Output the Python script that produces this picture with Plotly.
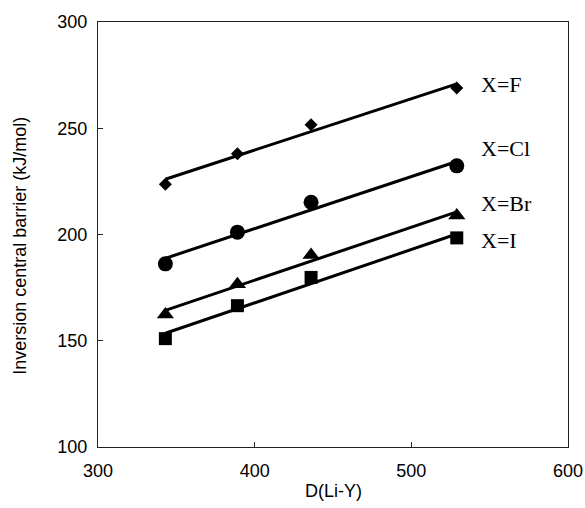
import numpy as np
import plotly.graph_objects as go

# Data
d_li_y = [343, 389, 436, 529]
barrier_F = [223.7, 238.0, 251.7, 269.0]
barrier_Cl = [186.2, 201.1, 215.2, 232.3]
barrier_Br = [162.3, 176.6, 190.3, 209.0]
barrier_I = [151.0, 166.5, 179.8, 198.4]
series_names = ["X=F", "X=Cl", "X=Br", "X=I"]
label_y = [270.6, 240.3, 214.4, 197.1]
label_x = 543

series = [barrier_F, barrier_Cl, barrier_Br, barrier_I]
symbols = ["diamond", "circle", "triangle-up", "square"]
sizes = [10, 15, 15, 13]

fig = go.Figure()
x = np.array(d_li_y, dtype=float)
for name, yv, sym, sz in zip(series_names, series, symbols, sizes):
    y = np.array(yv, dtype=float)
    slope, icpt = np.polyfit(x, y, 1)
    xf = np.array([x.min(), x.max()])
    fig.add_trace(go.Scatter(x=xf, y=slope * xf + icpt, mode="lines",
                             line=dict(color="black", width=3),
                             showlegend=False, hoverinfo="skip"))
    fig.add_trace(go.Scatter(x=x, y=y, mode="markers", name=name,
                             marker=dict(symbol=sym, size=sz, color="black"),
                             showlegend=False))

for name, ly in zip(series_names, label_y):
    fig.add_annotation(x=label_x, y=ly, xref="x", yref="y", text=name,
                       showarrow=False, xanchor="left", yanchor="middle",
                       font=dict(family="Liberation Serif", size=22, color="black"))

fig.add_annotation(x=0.5, y=-0.1024, xref="paper", yref="paper", text="D(Li-Y)",
                   showarrow=False, xanchor="center", yanchor="middle",
                   font=dict(family="Liberation Sans", size=18, color="black"))
fig.add_annotation(x=-0.1677, y=0.474, xref="paper", yref="paper",
                   text="Inversion central barrier (kJ/mol)", textangle=-90,
                   showarrow=False, xanchor="center", yanchor="middle",
                   font=dict(family="Liberation Sans", size=18, color="black"))

axis_common = dict(showgrid=False, zeroline=False, showline=True, mirror=True,
                   linecolor="#222", linewidth=1, ticks="inside", ticklen=5,
                   tickcolor="#222", automargin=False,
                   tickfont=dict(family="Liberation Sans", size=18, color="black"))
fig.update_xaxes(range=[300, 600], dtick=100, tick0=300, ticklabelstandoff=7, **axis_common)
fig.update_yaxes(range=[100, 300], dtick=50, tick0=100, ticklabelstandoff=6, **axis_common)

fig.update_layout(width=585, height=508, margin=dict(l=98, r=17, t=22, b=61),
                  paper_bgcolor="white", plot_bgcolor="white")

fig.write_html("out.html")
